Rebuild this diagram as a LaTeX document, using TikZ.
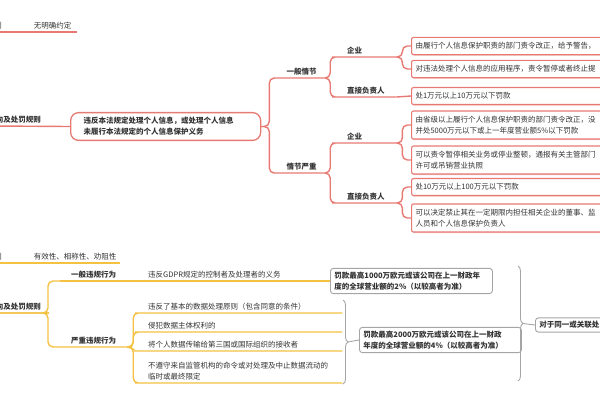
\documentclass[tikz,border=0pt]{standalone}
\usepackage{fontspec}
\setmainfont{Noto Sans CJK SC}
\usetikzlibrary{positioning, shadows, decorations.pathreplacing}
\definecolor{rcol}{RGB}{232,122,116}
\definecolor{ycol}{RGB}{244,193,66}
\definecolor{gcol}{RGB}{165,165,165}
\definecolor{tcol}{RGB}{51,51,51}
\tikzstyle{txt} = [font=\fontsize{7.5}{11}\selectfont, text=tcol, inner sep=3pt]
\tikzstyle{btxt} = [font=\fontsize{7.5}{11}\selectfont\bfseries, text=tcol, inner sep=3pt]
\tikzstyle{lbl} = [txt, anchor=south]
\tikzstyle{topic} = [btxt, anchor=south]
\tikzstyle{sub} = [btxt, anchor=south west, text width=39pt, inner xsep=10pt, align=left]
\tikzstyle{item} = [txt, anchor=south west, text width=186pt, inner xsep=8pt, align=left]
\tikzstyle{rbox} = [txt, anchor=west, draw=rcol, line width=1.1pt, fill=white, rounded corners=2pt, text width=220pt, inner xsep=4pt, inner ysep=5pt, align=left, drop shadow={shadow xshift=0.6pt, shadow yshift=-1.2pt, fill=rcol!70, opacity=0.6}]
\tikzstyle{abox} = [btxt, anchor=west, draw=rcol, line width=1.3pt, fill=white, rounded corners=8pt, text width=164pt, inner xsep=13pt, inner ysep=4.75pt, align=left]
\tikzstyle{gbox} = [btxt, anchor=west, draw=gcol, line width=0.9pt, fill=white, rounded corners=3pt, text width=154pt, inner xsep=4pt, inner ysep=3.5pt, align=left]
\tikzstyle{rline} = [draw=rcol, line width=1.4pt, rounded corners=5pt]
\tikzstyle{yline} = [draw=ycol, line width=1.4pt, rounded corners=5pt]
\tikzstyle{gline} = [draw=gcol, line width=0.9pt]
\tikzstyle{sumbrace} = [gline, decorate, decoration={brace, amplitude=5pt}]

\begin{document}
\begin{tikzpicture}[x=1pt, y=-1pt]
	\useasboundingbox (0,0) rectangle (600,400);
	\clip (0,0) rectangle (600,400);

	\node [lbl, anchor=south east] (r1) at (5,32) {则};
	\node [lbl, minimum width=49pt] (v1) at (52.5,32) {无明确约定};
	\node [topic, anchor=south east] (m1) at (44,126) {向及处罚规则};
	\node [abox] (act) at (70,126.5) {违反本法规定处理个人信息，或处理个人信息\\未履行本法规定的个人信息保护义务};
	\node [topic, minimum width=47pt] (gen) at (301.5,78) {一般情节};
	\node [topic, minimum width=47pt] (sev) at (301.5,173) {情节严重};
	\node [sub] (gc) at (337,57) {企业};
	\node [sub] (gp) at (337,97) {直接负责人};
	\node [sub] (sc) at (337,143) {企业};
	\node [sub] (sp) at (337,203) {直接负责人};
	\node [rbox] (b1) at (411,46) {由履行个人信息保护职责的部门责令改正，给予警告，};
	\node [rbox] (b2) at (411,69) {对违法处理个人信息的应用程序，责令暂停或者终止提};
	\node [rbox] (b3) at (411,96) {处1万元以上10万元以下罚款};
	\node [rbox] (b4) at (411,125) {由省级以上履行个人信息保护职责的部门责令改正，没\\并处5000万元以下或上一年度营业额5\%以下罚款};
	\node [rbox] (b5) at (411,160) {可以责令暂停相关业务或停业整顿，通报有关主管部门\\许可或吊销营业执照};
	\node [rbox] (b6) at (411,187) {处10万元以上100万元以下罚款};
	\node [rbox] (b7) at (411,218) {可以决定禁止其在一定期限内担任相关企业的董事、监\\人员和个人信息保护负责人};

	\path [rline] (r1.south west) -- (v1.south east);
	\path [rline] (m1.south west) -- (act.west);
	\path [rline] (act.east) -- ++(8,0) |- (gen.south west) -- (gen.south east);
	\path [rline] (act.east) -- ++(8,0) |- (sev.south west) -- (sev.south east);
	\path [rline] (gen.south east) -- ++(5,0) |- (gc.south west) -- (gc.south east);
	\path [rline] (gen.south east) -- ++(5,0) |- (gp.south west) -- (gp.south east);
	\path [rline] (sev.south east) -- ++(5,0) |- (sc.south west) -- (sc.south east);
	\path [rline] (sev.south east) -- ++(5,0) |- (sp.south west) -- (sp.south east);
	\path [rline] (gc.south east) -- ++(6,0) |- (b1.west);
	\path [rline] (gc.south east) -- ++(6,0) |- (b2.west);
	\path [rline] (gp.south east) -- (b3.west);
	\path [rline] (sc.south east) -- ++(6,0) |- (b4.west);
	\path [rline] (sc.south east) -- ++(6,0) |- (b5.west);
	\path [rline] (sp.south east) -- ++(6,0) |- (b6.west);
	\path [rline] (sp.south east) -- ++(6,0) |- (b7.west);

	\node [lbl, anchor=south east] (r2) at (5,263) {则};
	\node [lbl, minimum width=90pt] (v2) at (75,263) {有效性、相称性、劝阻性};
	\node [topic, anchor=south east] (m2) at (44,313) {向及处罚规则};
	\node [topic, minimum width=67pt] (gv) at (93.5,281) {一般违规行为};
	\node [topic, minimum width=67pt] (sv) at (93.5,347) {严重违规行为};
	\node [item] (gi) at (140,281) {违反GDPR规定的控制者及处理者的义务};
	\node [item] (s1) at (140,313) {违反了基本的数据处理原则（包含同意的条件）};
	\node [item] (s2) at (140,332) {侵犯数据主体权利的};
	\node [item] (s3) at (140,351) {将个人数据传输给第三国或国际组织的接收者};
	\node [item] (s4) at (140,383) {不遵守来自监管机构的命令或对处理及中止数据流动的\\临时或最终限定};
	\node [gbox] (f1) at (330,281) {罚款最高1000万欧元或该公司在上一财政年\\度的全球营业额的2\%（以较高者为准）};
	\node [gbox] (f2) at (359,340) {罚款最高2000万欧元或该公司在上一财政\\年度的全球营业额的4\%（以较高者为准）};
	\node [gbox, text width=100pt] (f3) at (535,325) {对于同一或关联处};

	\path [yline] (r2.south west) -- (v2.south east);
	\path [yline] (m2.south west) -- (m2.south east) -- ++(4,0) |- (gv.south west);
	\path [yline] (m2.south west) -- (m2.south east) -- ++(4,0) |- (sv.south west);
	\path [yline] (gv.south west) -- (gv.south east) -- (gi.south west) -- (f1.west);
	\path [yline] (sv.south west) -- (sv.south east) -- ++(6,0) |- (s1.south west) -- (s1.south east);
	\path [yline] (sv.south east) -- ++(6,0) |- (s2.south west) -- (s2.south east);
	\path [yline] (sv.south east) to[out=0, in=180] (s3.south west) -- (s3.south east);
	\path [yline] (sv.south east) -- ++(6,0) |- (s4.south west) -- (s4.south east);

	\coordinate (k1) at (343,300);
	\coordinate (k2) at (343,384);
	\coordinate (k3) at (348,342);
	\coordinate (k4) at (518,266);
	\coordinate (k5) at (518,381);
	\coordinate (k6) at (523,323.5);
	\path [sumbrace] (k1) -- (k2);
	\path [gline] (k3) -- (f2.west);
	\path [sumbrace] (k4) -- (k5);
	\path [gline] (k6) -- (f3.west);
\end{tikzpicture}
\end{document}
